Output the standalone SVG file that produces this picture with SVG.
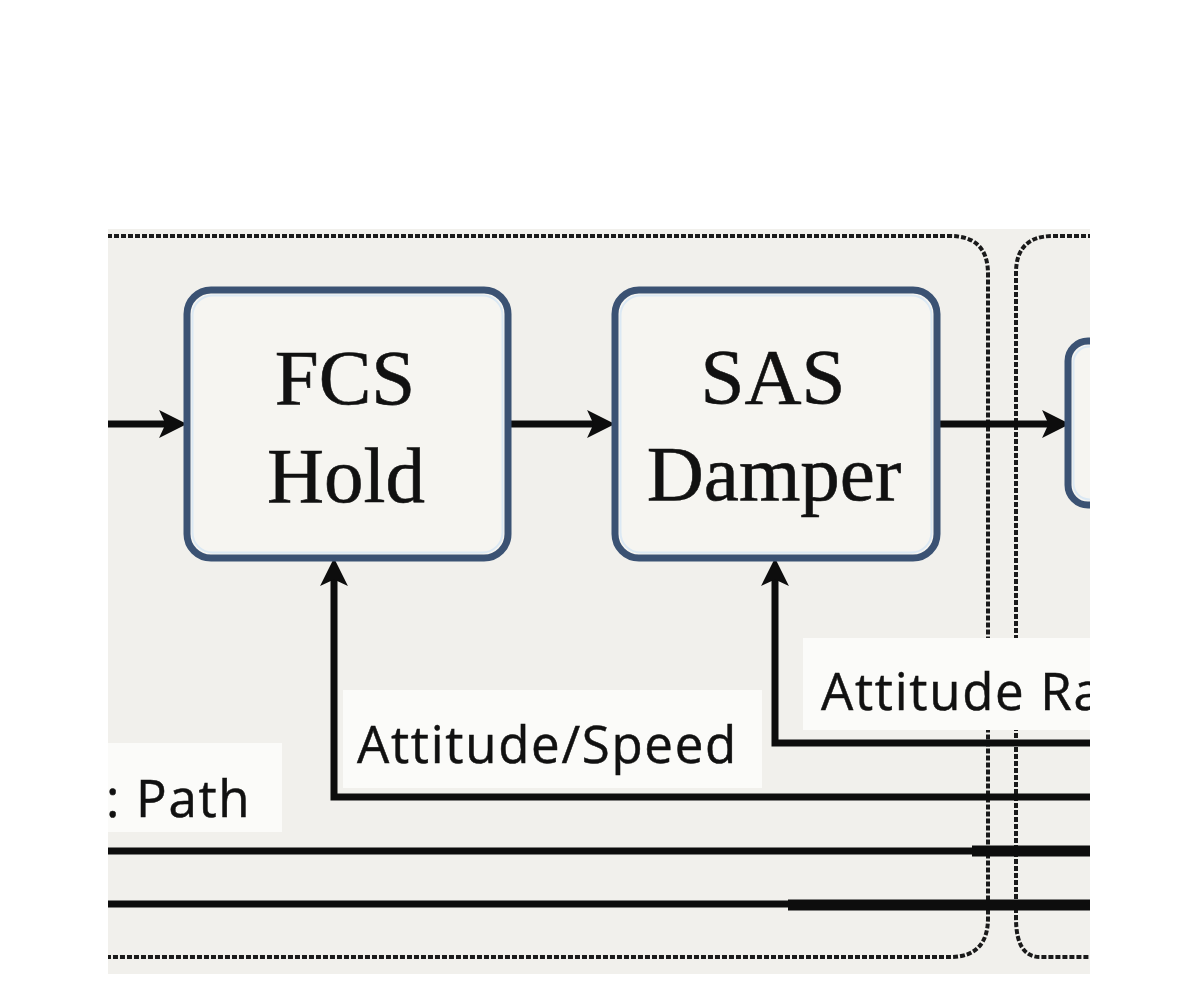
<svg xmlns="http://www.w3.org/2000/svg" width="1200" height="981" viewBox="0 0 1200 981">
<style>
.bg{fill:#f1f0ec}
.panel{fill:none;stroke:#1a1a1a;stroke-width:4;stroke-dasharray:5 2}
.box{fill:#f6f5f1;stroke:#3b5273;stroke-width:7}
.halo{fill:none;stroke:#dce9f4;stroke-width:2}
.wire{fill:none;stroke:#0d0d0d;stroke-width:7}
.thick{fill:none;stroke:#0d0d0d;stroke-width:11}
.lbl{fill:#fbfbf9}
.serif{font-family:"Liberation Serif","Times New Roman",serif;font-size:79px;fill:#111;text-anchor:middle;stroke:#111;stroke-width:0.6}
.sans{font-family:"Open Sans","Liberation Sans",sans-serif;font-size:51px;fill:#111;letter-spacing:1.7px;stroke:#111;stroke-width:0.5}
</style>
<defs>
<clipPath id="clip"><rect x="108" y="226" width="982" height="750"/></clipPath>
<marker id="ah" markerUnits="userSpaceOnUse" markerWidth="30" markerHeight="30" viewBox="0 0 26 28" refX="13" refY="14" orient="auto">
<path d="M0,1 L26,14 L0,27 L6,14 z" fill="#0d0d0d"/>
</marker>
</defs>
<rect width="1200" height="981" fill="#ffffff"/>
<g clip-path="url(#clip)">
<rect class="bg" x="108" y="229" width="982" height="745"/>
<g id="panels">
<path class="panel" d="M100,236 H950 Q988,236 988,274 V918 Q988,957 950,957 H100"/>
<path class="panel" d="M1100,236 H1053 Q1016,236 1016,273 V918 Q1016,957 1040,957 H1100"/>
</g>
<g id="labels-bg">
<rect class="lbl" x="803" y="638" width="300" height="92"/>
<rect class="lbl" x="343" y="690" width="419" height="98"/>
<rect class="lbl" x="100" y="743" width="182" height="89"/>
</g>
<g id="connectors">
<path class="wire" d="M100,424 H173" marker-end="url(#ah)"/>
<path class="wire" d="M508,424 H601" marker-end="url(#ah)"/>
<path class="wire" d="M937,424 H1056" marker-end="url(#ah)"/>
<path class="wire" d="M1100,797 H334 V572" marker-end="url(#ah)"/>
<path class="wire" d="M1100,743 H775 V572" marker-end="url(#ah)"/>
<path class="wire" d="M100,851 H1100"/>
<path class="thick" d="M972,851 H1100"/>
<path class="wire" d="M100,904 H1100"/>
<path class="thick" d="M788,905 H1100"/>
</g>
<g id="fcs-hold">
<rect class="box" x="187" y="290" width="321" height="268" rx="24"/>
<rect class="halo" x="192.5" y="295.5" width="310" height="257" rx="20"/>
<text class="serif" x="345" y="404">FCS</text>
<text class="serif" x="346" y="502">Hold</text>
</g>
<g id="sas-damper">
<rect class="box" x="615" y="290" width="322" height="268" rx="24"/>
<rect class="halo" x="620.5" y="295.5" width="311" height="257" rx="20"/>
<text class="serif" x="773" y="403">SAS</text>
<text class="serif" x="774" y="500">Damper</text>
</g>
<g id="next-block">
<rect class="box" x="1068" y="341" width="120" height="164" rx="20"/>
<rect class="halo" x="1073.5" y="346.5" width="110" height="153" rx="16"/>
</g>
<g id="texts">
<text class="sans" x="821" y="710">Attitude Ra</text>
<text class="sans" x="357" y="763">Attitude/Speed</text>
<text class="sans" x="106" y="817">: Path</text>
</g>
</g>
</svg>
